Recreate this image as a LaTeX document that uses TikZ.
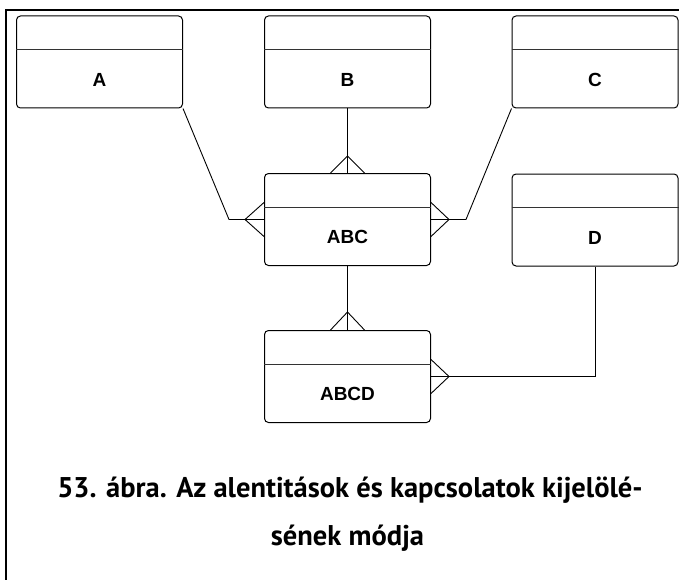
\documentclass[tikz,border=0pt]{standalone}
\usepackage{fontspec}
\newfontfamily\boxfont{Liberation Sans}
\newfontfamily\capfont{PT Sans}
\usepackage{tikz}
\usetikzlibrary{calc}

% Crow's foot at an entity edge: anchor, apex shift, two end shifts
\newcommand{\crowfoot}[4]{%
  \draw[conn] ([shift={(#3)}]#1) -- ([shift={(#2)}]#1) -- ([shift={(#4)}]#1);}

\begin{document}
\begin{tikzpicture}[x=1pt, y=-1pt,
    entity/.style={draw, rounded corners=4pt, line width=1pt,
      minimum width=166pt, minimum height=92pt, inner sep=0pt},
    divider/.style={draw, line width=1pt, black!80},
    lbl/.style={font=\boxfont\bfseries\fontsize{19}{21}\selectfont},
    conn/.style={line width=0.9pt},
    frame/.style={line width=2pt},
    caption/.style={anchor=base, font=\capfont\bfseries\fontsize{28.5}{32}\selectfont}]
        \useasboundingbox (0,0) rectangle (679,580);

        % Keret (csak bal es felso el latszik)
        \draw[frame] (6,580) -- (6,10) -- (679,10);

        % Entitasok
        \node[entity] (A) at (99.5,62) {};
        \node[entity] (B) at (347.5,62) {};
        \node[entity] (C) at (595,62) {};
        \node[entity] (ABC) at (347.5,219.5) {};
        \node[entity] (D) at (595,220) {};
        \node[entity] (ABCD) at (347.5,376.5) {};

        % Elvalaszto vonalak es nevek
        \foreach \e in {A,B,C,ABC,D,ABCD} {
            \draw[divider] ([yshift=-34pt]\e.north west) -- ([yshift=-34pt]\e.north east);
            \node[lbl] (\e-name) at ([yshift=-17.5pt]\e.center) {\e};
        }

        % Toresi pontok
        \coordinate (bendA) at (229,219.5);
        \coordinate (bendC) at (466,219.5);
        \coordinate (bendD) at (D.south |- ABCD.east);

        % Kapcsolatok
        \draw[conn] (A.south east) -- (bendA) -- (ABC.west);
        \draw[conn] (B.south) -- (ABC.north);
        \draw[conn] (C.south west) -- (bendC) -- (ABC.east);
        \draw[conn] (ABC.south) -- (ABCD.north);
        \draw[conn] (D.south) -- (bendD) -- (ABCD.east);

        % Tobb oldal (szarkalab)
        \crowfoot{ABC.west}{-19pt,0pt}{0pt,17pt}{0pt,-17pt}
        \crowfoot{ABC.east}{18pt,0pt}{0pt,17pt}{0pt,-17pt}
        \crowfoot{ABC.north}{0pt,17pt}{-17pt,0pt}{17pt,0pt}
        \crowfoot{ABCD.north}{0pt,18pt}{-17pt,0pt}{17pt,0pt}
        \crowfoot{ABCD.east}{18pt,0pt}{0pt,17pt}{0pt,-17pt}

        % Abrafelirat
        \node[caption] (cap1) at (350,497)
            {53. ábra. Az alentitások és kapcsolatok kijelölé-};
        \node[caption] (cap2) at (347.5,545) {sének módja};

    \end{tikzpicture}
\end{document}
